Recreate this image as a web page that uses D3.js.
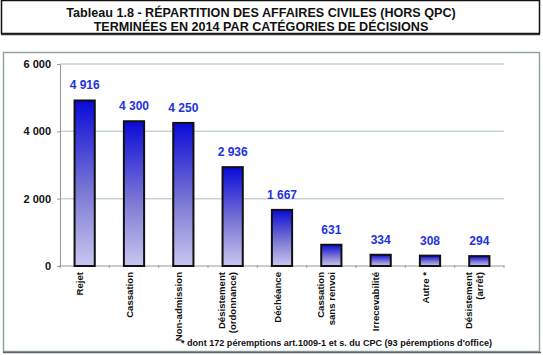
<!DOCTYPE html>
<html>
<head>
<meta charset="utf-8">
<script src="https://cdn.jsdelivr.net/npm/d3@7"></script>
<style>
  body { margin: 0; background: #fff; }
  text { font-family: "Liberation Sans", Arial, sans-serif; }
</style>
</head>
<body>
<div class="chart"></div>
<script>
// Data
const categories = ["Rejet", "Cassation", "Non-admission", "Désistement|(ordonnance)", "Déchéance",
    "Cassation|sans renvoi", "Irrecevabilité", "Autre *", "Désistement|(arrêt)"]
const values = [4916, 4300, 4250, 2936, 1667, 631, 334, 308, 294]
const yTicks = [0, 2000, 4000, 6000]
const titleLines = ["Tableau 1.8 - RÉPARTITION DES AFFAIRES CIVILES (HORS QPC)",
    "TERMINÉES EN 2014 PAR CATÉGORIES DE DÉCISIONS"]
const footnote = "* dont 172 péremptions art.1009-1 et s. du CPC (93 péremptions d'office)"

const W = 543, H = 355
const margin = {top: 64, right: 39, bottom: 89, left: 60}
const width = W - margin.left - margin.right
const height = H - margin.top - margin.bottom

const fmt = n => d3.format(",")(n).replace(/,/g, " ")

const root = d3.select(".chart").append("svg")
    .attr("width", W)
    .attr("height", H)

// Gradient for bars
const grad = root.append("defs").append("linearGradient")
    .attr("id", "barGrad")
    .attr("x1", 0).attr("y1", 0).attr("x2", 0).attr("y2", 1)
grad.append("stop").attr("offset", "0%").attr("stop-color", "#0a0ad8")
grad.append("stop").attr("offset", "55%").attr("stop-color", "#7b78d4")
grad.append("stop").attr("offset", "100%").attr("stop-color", "#cac6f0")

// Title box
root.append("rect")
    .attr("x", 1.5).attr("y", 0.5)
    .attr("width", 538).attr("height", 33)
    .attr("fill", "#fff")
    .attr("stroke", "#111")
    .attr("stroke-width", 1.5)
root.append("line")
    .attr("x1", 1).attr("x2", 540).attr("y1", 34.5).attr("y2", 34.5)
    .attr("stroke", "#333").attr("stroke-width", 1.5)

root.selectAll(".title")
    .data(titleLines)
    .enter()
    .append("text")
        .attr("class", "title")
        .attr("x", 261)
        .attr("y", (_, i) => 17 + i * 14)
        .attr("text-anchor", "middle")
        .attr("font-weight", "bold")
        .attr("font-size", 12.6)
        .attr("fill", "#111")
        .text(d => d)

// Chart panel
root.append("rect")
    .attr("x", 3.5).attr("y", 52.5)
    .attr("width", 536).attr("height", 299)
    .attr("fill", "#fff")
    .attr("stroke", "#8fa2a2")
    .attr("stroke-width", 1.5)
root.append("line")
    .attr("x1", 3).attr("x2", 541).attr("y1", 352.5).attr("y2", 352.5)
    .attr("stroke", "#556666").attr("stroke-width", 1.5)

const svg = root.append("g")
    .attr("transform", `translate(${margin.left},${margin.top})`)

// Scales
const xScale = d3.scaleBand()
    .domain(categories)
    .range([0, width])
    .paddingInner(0.59)
    .paddingOuter(0.295)

const yScale = d3.scaleLinear()
    .domain([0, 6000])
    .range([height, 0])

// Gridlines
svg.selectAll(".grid")
    .data(yTicks.filter(d => d > 0))
    .enter()
    .append("line")
        .attr("class", "grid")
        .attr("x1", 0).attr("x2", width)
        .attr("y1", d => yScale(d)).attr("y2", d => yScale(d))
        .attr("stroke", "#c6d4d4")
        .attr("stroke-width", 1.5)

// Y axis
const yAxis = d3.axisLeft(yScale)
    .tickValues(yTicks)
    .tickSize(3)
    .tickPadding(6)
    .tickFormat(fmt)
const yg = svg.append("g").call(yAxis)
yg.select(".domain").attr("stroke", "#999")
yg.selectAll(".tick line").attr("stroke", "#999")
yg.selectAll("text")
    .attr("font-size", 11)
    .attr("font-weight", "bold")
    .attr("fill", "#111")
    .style("font-family", "'Liberation Sans', Arial, sans-serif")

// X axis line with small ticks between categories
svg.append("line")
    .attr("x1", 0).attr("x2", width)
    .attr("y1", height).attr("y2", height)
    .attr("stroke", "#999")
svg.selectAll(".xtick")
    .data(d3.range(categories.length + 1))
    .enter()
    .append("line")
        .attr("class", "xtick")
        .attr("x1", i => i * xScale.step())
        .attr("x2", i => i * xScale.step())
        .attr("y1", height - 1).attr("y2", height + 2)
        .attr("stroke", "#999")

// Bars
svg.selectAll(".bar")
    .data(values)
    .enter()
    .append("rect")
        .attr("class", "bar")
        .attr("x", (d, i) => xScale(categories[i]))
        .attr("y", d => yScale(d))
        .attr("width", xScale.bandwidth())
        .attr("height", d => height - yScale(d))
        .attr("fill", "url(#barGrad)")
        .attr("stroke", "#111")
        .attr("stroke-width", 2)

// Value labels
svg.selectAll(".val")
    .data(values)
    .enter()
    .append("text")
        .attr("class", "val")
        .attr("x", (d, i) => xScale(categories[i]) + xScale.bandwidth() / 2)
        .attr("y", d => yScale(d) - 11)
        .attr("text-anchor", "middle")
        .attr("font-size", 12)
        .attr("font-weight", "bold")
        .attr("fill", "#2233dd")
        .text(fmt)

// Category labels (rotated)
const labels = svg.selectAll(".cat")
    .data(categories)
    .enter()
    .append("text")
        .attr("class", "cat")
        .attr("transform", d => `translate(${xScale(d) + xScale.bandwidth() / 2 - 5},${height + 6}) rotate(-90)`)
        .attr("text-anchor", "end")
        .attr("font-size", 9.6)
        .attr("font-weight", "bold")
        .attr("fill", "#111")
labels.each(function(d) {
    const parts = d.split("|")
    const off = parts.length === 1 ? 3.5 : -2.5
    d3.select(this).selectAll("tspan")
        .data(parts)
        .enter()
        .append("tspan")
            .attr("x", 0)
            .attr("y", (_, j) => off + j * 11)
            .text(p => p)
})

// Footnote
root.append("text")
    .attr("x", 181)
    .attr("y", 346)
    .attr("font-size", 9)
    .attr("font-weight", "bold")
    .attr("fill", "#111")
    .attr("textLength", 311)
    .attr("lengthAdjust", "spacingAndGlyphs")
    .text(footnote)
</script>
</body>
</html>
